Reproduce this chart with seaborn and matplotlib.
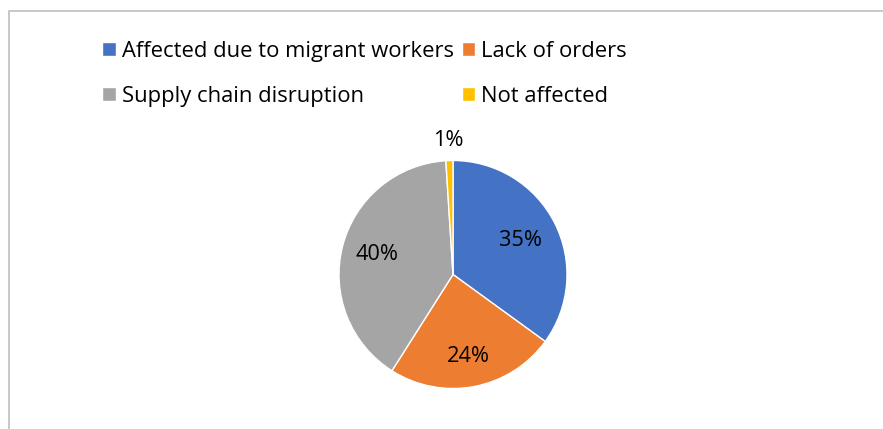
import matplotlib
matplotlib.use("Agg")
import matplotlib.pyplot as plt
import seaborn as sns
from matplotlib.patches import Rectangle
import numpy as np

categories = ["Affected due to migrant workers", "Lack of orders",
              "Supply chain disruption", "Not affected"]
shares = [35, 24, 40, 1]
colors = ["#4472C4", "#ED7D31", "#A5A5A5", "#FFC000"]

sns.set_theme(style="white")
plt.rcParams["font.family"] = ["Open Sans", "DejaVu Sans"]
plt.rcParams["text.color"] = "black"

W, H = 883, 429
DPI = 100
fig = plt.figure(figsize=(W / DPI, H / DPI), dpi=DPI)
fig.patch.set_facecolor("white")
renderer = fig.canvas.get_renderer()

# font size chosen so the longest legend entry spans ~331 px
probe = fig.text(0, 0, categories[0], fontsize=15)
fs = 15 * 331 / probe.get_window_extent(renderer).width
probe.remove()
fs_px = fs * DPI / 72

# pie axes: centre (453, 274.5) px, radius 114 px
cx, cy, r = 453, 274.5, 114
ax = fig.add_axes([(cx - r) / W, (H - cy - r) / H, 2 * r / W, 2 * r / H])

wedges, texts, autotexts = ax.pie(
    shares, colors=colors, startangle=90, counterclock=False,
    autopct=lambda p: f"{p:.0f}%", pctdistance=0.68,
    wedgeprops=dict(edgecolor="white", linewidth=1.0),
    textprops=dict(fontsize=fs * 0.99, color="black"),
)
ax.set_xlim(-1, 1)
ax.set_ylim(-1, 1)
ax.set_aspect("equal")
ax.axis("off")

# label distance from the centre for each slice
label_radius = [0.66, 0.73, 0.69, 1.18]
for w, t, rad in zip(wedges, autotexts, label_radius):
    ang = np.deg2rad((w.theta1 + w.theta2) / 2)
    t.set_position((rad * np.cos(ang), rad * np.sin(ang)))

# legend in two columns above the pie (column-major order)
order = [0, 2, 1, 3]
handles = [wedges[i] for i in order]
labels = [categories[i] for i in order]

box = 13.4             # marker square, px
first = (102.3, 42.3)  # top-left of the first marker, px from top-left
row_gap = 45.0
col2_x = 461.7
params = dict(handlelength=box / fs_px, handleheight=box / fs_px,
              handletextpad=6.0 / fs_px, columnspacing=0.5, labelspacing=1.4)
anchor = [first[0] / W, 1 - 30 / H]


def make_legend():
    return fig.legend(handles, labels, ncol=2, loc="upper left",
                      bbox_to_anchor=tuple(anchor), frameon=False,
                      fontsize=fs, labelcolor="black", borderaxespad=0,
                      borderpad=0, **params)


for _ in range(4):
    leg = make_legend()
    fig.canvas.draw()
    bb = [h.get_window_extent(renderer) for h in leg.legend_handles]
    params["handleheight"] *= box / bb[0].height
    params["handlelength"] *= box / bb[0].width
    params["labelspacing"] += (row_gap - (bb[0].y1 - bb[1].y1)) / fs_px
    params["columnspacing"] += (col2_x - bb[2].x0) / fs_px
    anchor[0] += (first[0] - bb[0].x0) / W
    anchor[1] += ((H - first[1]) - bb[0].y1) / H
    leg.remove()

make_legend()

# chart frame (left and top edges visible)
fig.add_artist(Rectangle((9 / W, -0.1), 1.2, 1.1 - 11 / H,
                         transform=fig.transFigure, fill=False,
                         edgecolor="#BFBFBF", linewidth=1.2))

fig.savefig("out.png", dpi=DPI, facecolor="white")
